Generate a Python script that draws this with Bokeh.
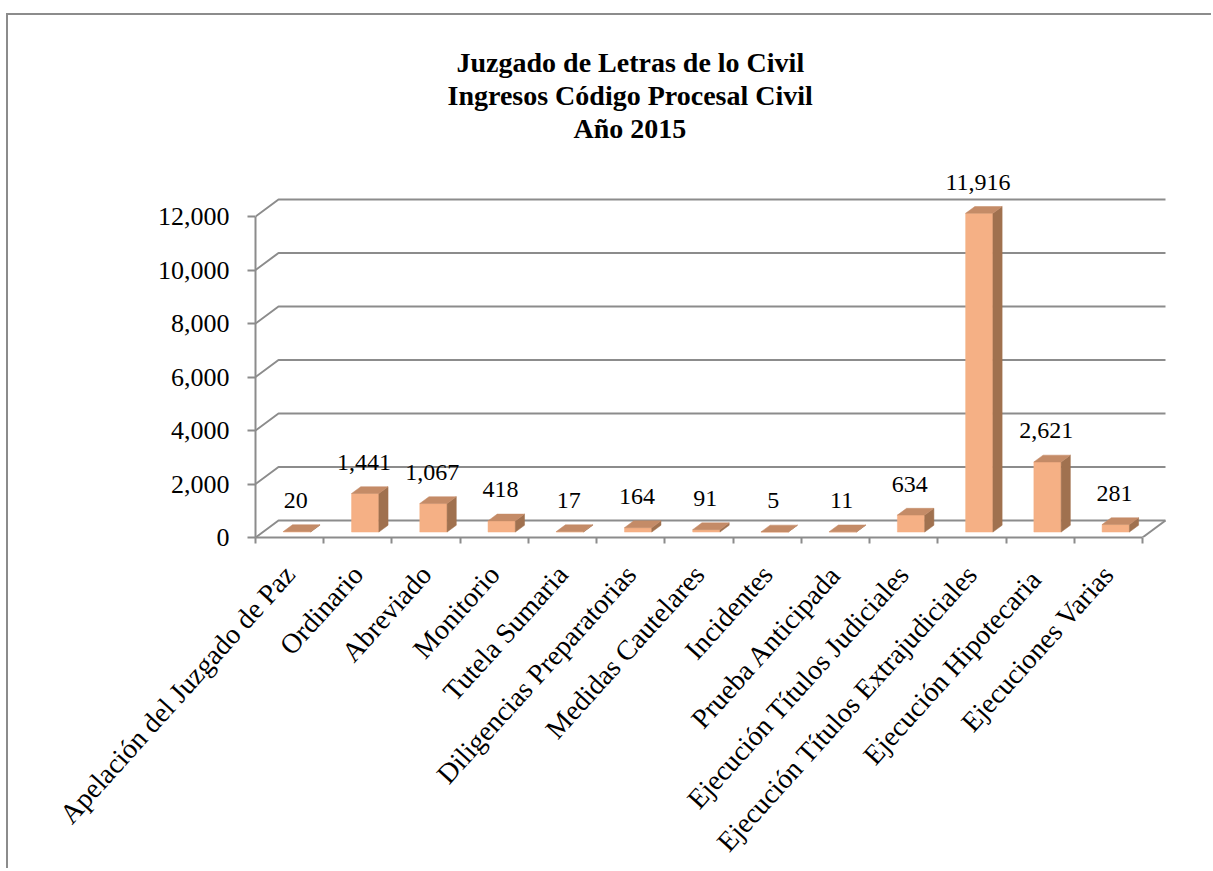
import math
from bokeh.plotting import figure
from bokeh.models import (Range1d, FixedTicker, NumeralTickFormatter, Title, ColumnDataSource,
                          LinearAxis)
from bokeh.core.properties import value
from bokeh.embed import file_html
from bokeh.resources import INLINE

# ---------------- data ----------------
CATEGORIES = [
    "Apelación del Juzgado de Paz", "Ordinario", "Abreviado", "Monitorio",
    "Tutela Sumaria", "Diligencias Preparatorias", "Medidas Cautelares",
    "Incidentes", "Prueba Anticipada", "Ejecución Títulos Judiciales",
    "Ejecución Títulos Extrajudiciales", "Ejecución  Hipotecaria", "Ejecuciones Varias",
]
VALUES = [20, 1441, 1067, 418, 17, 164, 91, 5, 11, 634, 11916, 2621, 281]
Y_TICKS = [0, 2000, 4000, 6000, 8000, 10000, 12000]
TITLE_LINES = ["Juzgado de Letras de lo Civil", "Ingresos Código Procesal Civil", "Año  2015"]

# ---------------- geometry (pixels) ----------------
N = len(CATEGORIES)
FIG_W, FIG_H = 1205, 855
FRAME_L, FRAME_T = 247, 128
FRAME_W, FRAME_H = 915, 394
CAT_PX = 887.0 / N
UPP = 12000.0 / 321.0            # value units per pixel
X_END = FRAME_W / CAT_PX
Y_END = FRAME_H * UPP
DXU = 23.0 / CAT_PX              # depth offset (x)
DYU = 17.0 * UPP                 # depth offset (y)
BAR_W = 27.3 / CAT_PX
F0, F1 = 0.32, 0.72              # bar depth fractions

FONT = "Liberation Serif"
GRID = "#8c8c8c"
FRONT, SIDE, TOP = "#F5B085", "#A0714F", "#C48B67"

p = figure(width=FIG_W, height=FIG_H, output_backend="svg", toolbar_location=None,
           x_range=Range1d(0, X_END), y_range=Range1d(0, Y_END),
           min_border_left=FRAME_L, min_border_top=FRAME_T,
           min_border_right=FIG_W - FRAME_L - FRAME_W,
           min_border_bottom=FIG_H - FRAME_T - FRAME_H,
           x_axis_type=None, y_axis_type=None)
p.title = None
p.outline_line_color = None
p.background_fill_color = "white"
p.border_fill_color = "white"
p.xgrid.visible = False
p.ygrid.visible = False
p.styles = {"margin-left": "6px", "margin-top": "13px",
            "border-top": "2px solid #8c8c8c", "border-left": "2px solid #8c8c8c"}

# ---------------- axes ----------------
yax = LinearAxis(ticker=FixedTicker(ticks=Y_TICKS), formatter=NumeralTickFormatter(format="0,0"),
                 bounds=(0, 12000))
yax.axis_line_color = GRID
yax.axis_line_width = 2
yax.major_tick_line_color = GRID
yax.major_tick_line_width = 2
yax.major_tick_in = 0
yax.major_tick_out = 8
yax.minor_tick_line_color = None
yax.major_label_standoff = 18
yax.major_label_text_font = FONT
yax.major_label_text_font_size = "26px"
yax.major_label_text_color = "black"
p.add_layout(yax, "left")

centers = [i + 0.5 for i in range(N)]
bounds_ticks = [float(i) for i in range(N + 1)]
xax = LinearAxis(ticker=FixedTicker(ticks=centers, minor_ticks=bounds_ticks), bounds=(0, N))
xax.major_label_overrides = {c: name for c, name in zip(centers, CATEGORIES)}
xax.axis_line_color = GRID
xax.axis_line_width = 2
xax.major_tick_line_color = None
xax.major_tick_out = 0
xax.major_tick_in = 0
xax.minor_tick_line_color = GRID
xax.minor_tick_line_width = 2
xax.minor_tick_in = 0
xax.minor_tick_out = 6
xax.major_label_orientation = math.radians(48)
xax.major_label_standoff = 26
xax.major_label_text_font = FONT
xax.major_label_text_font_size = "28px"
xax.major_label_text_color = "black"
p.add_layout(xax, "below")

# ---------------- 3D walls / gridlines ----------------
gx, gy = [], []
for v in Y_TICKS:
    gx.append([0, DXU, N + DXU])
    gy.append([v, v + DYU, v + DYU])
gx.append([N, N + DXU])
gy.append([0, DYU])
p.multi_line(xs=gx, ys=gy, line_color=GRID, line_width=2)

# ---------------- bars ----------------
ddx = (F1 - F0) * DXU
ddy = (F1 - F0) * DYU
b0 = F0 * DYU
L = [c + F0 * DXU - BAR_W / 2 for c in centers]
R = [l + BAR_W for l in L]
T = [v + b0 for v in VALUES]

p.quad(left=L, right=R, bottom=[b0] * N, top=T, fill_color=FRONT, line_color=FRONT, line_width=0.5)
side_x = [[r, r + ddx, r + ddx, r] for r in R]
side_y = [[b0, b0 + ddy, t + ddy, t] for t in T]
p.patches(side_x, side_y, fill_color=SIDE, line_color=SIDE, line_width=0.5)
top_x = [[l, r, r + ddx, l + ddx] for l, r in zip(L, R)]
top_y = [[t, t, t + ddy, t + ddy] for t in T]
p.patches(top_x, top_y, fill_color=TOP, line_color=TOP, line_width=0.5)

# ---------------- data labels ----------------
lab_src = ColumnDataSource(dict(x=[c + 0.09 for c in centers], y=T,
                                text=[f"{v:,}" for v in VALUES]))
p.text(x="x", y="y", text="text", source=lab_src, text_align="center", text_baseline="middle",
       y_offset=-31, text_font=value(FONT), text_font_size="24px", text_color="black")

# ---------------- title (nearest line added first) ----------------
title_offsets = [201, 192, 318]
for line, off in reversed(list(zip(TITLE_LINES, title_offsets))):
    p.add_layout(Title(text=line, align="left", offset=off, standoff=0,
                       text_font=FONT, text_font_style="bold", text_font_size="28px",
                       text_color="black"), "above")

open("out.html", "w").write(file_html(p, INLINE))
